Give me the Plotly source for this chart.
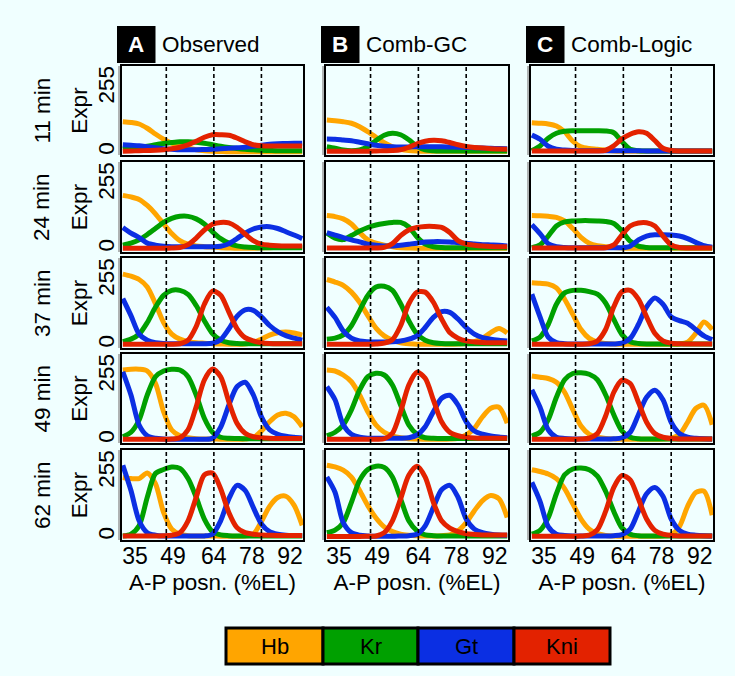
import plotly.graph_objects as go

W, H = 735, 676
FONT = "Liberation Sans, Arial, sans-serif"
BG = "#F0FFFF"
FS = 22.5

genes = ["Hb", "Kr", "Gt", "Kni"]
gene_colors = ["#FFA500", "#00A000", "#0B2FE3", "#E32200"]
models = ["Observed", "Comb-GC", "Comb-Logic"]
model_letters = ["A", "B", "C"]
times = ["11 min", "24 min", "37 min", "49 min", "62 min"]
x_tick_vals = [35, 49, 64, 78, 92]
x_tick_text = ["35", "49", "64", "78", "92"]
y_tick_vals = [0, 255]
y_tick_text = ["0", "255"]
guide_lines = [46.5, 64.0, 81.5]

# A-P position (%EL) of the sampled points
ap = [30.5, 33.5, 36.5, 39.5, 42.5, 45.5, 48.5, 51.5, 54.5, 57.5, 60.5, 63.5,
      66.5, 69.5, 72.5, 75.5, 78.5, 81.5, 84.5, 87.5, 90.5, 93.5, 96.5]

# ---------- Observed (rows: 11, 24, 37, 49, 62 min) ----------
obs_hb = [
    [120, 117, 111, 94, 71, 50, 34, 22, 14, 8, 4, 2, 1, 0, 0, 0, 0, 0, 0, 0, 0, 0, 0],
    [211, 205, 195, 171, 138, 98, 60, 32, 18, 11, 8, 6, 4, 3, 2, 2, 2, 3, 4, 5, 6, 6, 6],
    [279, 271, 258, 228, 162, 88, 42, 22, 12, 8, 6, 4, 3, 2, 2, 3, 8, 22, 38, 47, 50, 46, 38],
    [279, 282, 282, 275, 226, 112, 39, 16, 8, 4, 3, 3, 2, 2, 2, 3, 8, 35, 72, 99, 106, 92, 52],
    [234, 230, 230, 252, 210, 96, 30, 10, 4, 3, 3, 3, 2, 2, 2, 3, 10, 60, 120, 155, 160, 125, 45],
]
obs_kr = [
    [10, 14, 18, 22, 28, 33, 37, 40, 40, 38, 34, 28, 22, 17, 13, 10, 8, 6, 5, 4, 4, 4, 4],
    [14, 22, 35, 56, 80, 104, 120, 128, 128, 118, 98, 67, 40, 22, 11, 7, 5, 4, 4, 4, 4, 4, 4],
    [12, 22, 42, 88, 148, 195, 215, 215, 199, 155, 95, 44, 18, 8, 5, 4, 4, 4, 4, 4, 4, 4, 4],
    [12, 30, 79, 179, 252, 275, 282, 279, 252, 179, 86, 30, 10, 6, 5, 4, 4, 4, 4, 4, 4, 4, 4],
    [3, 10, 43, 156, 250, 266, 276, 270, 230, 156, 70, 20, 7, 4, 3, 3, 3, 3, 3, 3, 3, 3, 3],
]
obs_gt = [
    [28, 26, 24, 20, 16, 12, 10, 8, 8, 8, 9, 10, 12, 14, 16, 18, 22, 26, 30, 32, 33, 34, 34],
    [84, 62, 44, 22, 14, 10, 8, 8, 8, 8, 8, 8, 10, 20, 40, 62, 78, 86, 87, 80, 67, 54, 40],
    [182, 115, 42, 18, 8, 5, 4, 4, 4, 4, 4, 6, 20, 62, 112, 138, 136, 110, 76, 52, 36, 26, 18],
    [272, 179, 59, 16, 6, 3, 2, 2, 2, 2, 2, 6, 50, 138, 212, 230, 180, 92, 40, 22, 14, 10, 7],
    [283, 183, 63, 16, 6, 3, 3, 3, 3, 3, 3, 10, 63, 150, 203, 183, 116, 50, 20, 10, 6, 5, 5],
]
obs_kni = [
    [2, 3, 4, 5, 6, 8, 12, 18, 28, 42, 58, 68, 68, 66, 55, 40, 28, 24, 23, 23, 23, 23, 23],
    [2, 2, 2, 2, 2, 2, 3, 5, 16, 42, 74, 97, 104, 102, 85, 58, 32, 18, 14, 12, 11, 11, 11],
    [2, 2, 2, 2, 2, 2, 2, 4, 18, 72, 160, 212, 196, 130, 64, 28, 15, 8, 5, 4, 4, 4, 4],
    [2, 2, 2, 2, 2, 2, 3, 8, 40, 132, 239, 283, 252, 152, 66, 26, 12, 8, 6, 5, 5, 5, 5],
    [3, 3, 3, 3, 3, 4, 6, 16, 63, 156, 245, 252, 190, 96, 36, 16, 10, 7, 6, 5, 5, 5, 5],
]

# ---------- Comb-GC ----------
gc_hb = [
    [127, 124, 120, 114, 100, 80, 58, 36, 20, 10, 5, 3, 2, 2, 2, 2, 2, 2, 2, 2, 2, 2, 2],
    [131, 127, 118, 98, 64, 35, 22, 14, 8, 4, 3, 2, 2, 2, 2, 2, 2, 2, 2, 2, 2, 2, 2],
    [258, 248, 235, 208, 168, 115, 66, 35, 18, 8, 4, 2, 2, 2, 2, 2, 3, 5, 12, 26, 48, 64, 46],
    [279, 275, 259, 232, 179, 112, 59, 30, 16, 8, 4, 3, 2, 2, 2, 3, 6, 19, 46, 92, 126, 130, 66],
    [283, 276, 263, 236, 183, 123, 74, 39, 20, 10, 6, 4, 3, 3, 4, 7, 23, 56, 103, 143, 163, 150, 76],
]
gc_kr = [
    [20, 14, 7, 4, 7, 20, 45, 66, 74, 68, 48, 22, 8, 4, 3, 3, 3, 3, 3, 3, 3, 3, 3],
    [62, 42, 36, 52, 70, 84, 94, 100, 104, 104, 86, 46, 18, 8, 5, 4, 4, 4, 4, 4, 4, 4, 4],
    [22, 26, 39, 75, 135, 195, 228, 231, 215, 162, 95, 42, 18, 8, 5, 4, 4, 4, 4, 4, 4, 4, 4],
    [16, 30, 59, 119, 199, 252, 266, 259, 219, 139, 59, 22, 8, 6, 5, 5, 5, 5, 5, 5, 5, 5, 5],
    [16, 26, 56, 136, 223, 266, 279, 274, 236, 150, 63, 23, 7, 4, 3, 3, 3, 3, 3, 3, 3, 3, 3],
]
gc_gt = [
    [51, 50, 47, 44, 38, 32, 26, 22, 20, 19, 19, 20, 20, 20, 20, 19, 18, 17, 16, 15, 14, 13, 12],
    [64, 54, 44, 35, 27, 18, 14, 11, 11, 14, 18, 22, 27, 28, 28, 27, 24, 22, 19, 16, 15, 14, 11],
    [148, 108, 55, 26, 15, 12, 11, 11, 12, 15, 22, 35, 68, 108, 131, 128, 102, 68, 42, 28, 22, 18, 15],
    [212, 160, 60, 22, 10, 6, 6, 6, 6, 6, 8, 19, 52, 112, 166, 178, 139, 72, 35, 22, 15, 11, 8],
    [236, 176, 56, 16, 6, 3, 2, 2, 2, 3, 4, 10, 43, 116, 186, 203, 156, 70, 30, 16, 10, 7, 6],
]
gc_kni = [
    [2, 2, 2, 2, 2, 2, 3, 4, 5, 8, 18, 32, 42, 46, 44, 37, 28, 21, 17, 15, 12, 11, 10],
    [3, 3, 3, 3, 3, 3, 3, 5, 20, 52, 74, 84, 88, 88, 84, 64, 32, 18, 14, 11, 9, 8, 8],
    [2, 2, 2, 2, 2, 2, 3, 6, 20, 75, 162, 208, 208, 168, 102, 48, 26, 15, 11, 9, 8, 8, 8],
    [2, 2, 2, 2, 2, 2, 2, 4, 26, 112, 219, 270, 246, 159, 72, 30, 16, 10, 7, 6, 6, 6, 6],
    [1, 1, 1, 1, 1, 2, 3, 16, 63, 150, 243, 279, 236, 136, 63, 34, 20, 12, 9, 7, 7, 7, 7],
]

# ---------- Comb-Logic ----------
lg_hb = [
    [116, 114, 111, 103, 80, 42, 20, 13, 10, 6, 3, 2, 2, 2, 2, 2, 2, 2, 2, 2, 2, 2, 2],
    [131, 130, 128, 124, 110, 80, 45, 22, 12, 8, 5, 3, 2, 2, 2, 2, 2, 2, 2, 2, 2, 2, 2],
    [245, 243, 240, 225, 180, 120, 60, 25, 10, 5, 3, 2, 2, 2, 2, 2, 2, 2, 3, 10, 45, 90, 60],
    [255, 250, 245, 230, 190, 120, 55, 22, 10, 5, 3, 2, 2, 2, 2, 2, 3, 6, 20, 70, 125, 138, 60],
    [265, 258, 248, 230, 190, 130, 70, 30, 12, 5, 3, 2, 2, 2, 2, 2, 3, 8, 40, 120, 175, 180, 85],
]
lg_kr = [
    [4, 23, 54, 74, 82, 84, 84, 84, 84, 83, 76, 40, 10, 4, 3, 3, 3, 3, 3, 3, 3, 3, 3],
    [4, 15, 50, 90, 106, 110, 111, 111, 110, 108, 100, 70, 30, 10, 5, 4, 4, 4, 4, 4, 4, 4, 4],
    [15, 30, 80, 160, 205, 215, 215, 210, 200, 165, 100, 40, 12, 5, 3, 3, 3, 3, 3, 3, 3, 3, 3],
    [15, 30, 80, 170, 240, 265, 268, 262, 240, 180, 100, 35, 10, 4, 3, 3, 3, 3, 3, 3, 3, 3, 3],
    [10, 25, 75, 170, 245, 268, 272, 265, 240, 180, 100, 35, 10, 4, 3, 3, 3, 3, 3, 3, 3, 3, 3],
]
lg_gt = [
    [67, 50, 22, 10, 7, 5, 4, 4, 4, 4, 4, 4, 4, 4, 3, 3, 3, 3, 3, 3, 3, 3, 3],
    [95, 60, 20, 8, 5, 4, 4, 4, 4, 4, 4, 4, 10, 35, 50, 55, 55, 54, 50, 40, 25, 12, 6],
    [200, 110, 30, 8, 4, 3, 3, 3, 3, 3, 3, 6, 25, 80, 150, 185, 160, 110, 95, 85, 60, 35, 20],
    [200, 130, 40, 10, 5, 3, 3, 3, 3, 3, 4, 8, 30, 100, 170, 198, 160, 70, 25, 10, 6, 4, 3],
    [215, 140, 40, 10, 5, 3, 3, 3, 3, 3, 4, 8, 30, 100, 170, 195, 160, 70, 25, 10, 6, 4, 3],
]
lg_kni = [
    [3, 3, 3, 3, 3, 3, 3, 3, 3, 6, 24, 52, 70, 80, 74, 45, 14, 5, 3, 3, 3, 3, 3],
    [3, 3, 3, 3, 3, 3, 3, 3, 3, 4, 15, 55, 90, 102, 103, 90, 50, 15, 5, 3, 3, 3, 3],
    [2, 2, 2, 2, 2, 2, 2, 4, 15, 60, 150, 210, 215, 180, 110, 45, 15, 6, 4, 3, 3, 3, 3],
    [2, 2, 2, 2, 2, 2, 3, 6, 25, 95, 190, 238, 225, 150, 70, 25, 10, 5, 3, 3, 3, 3, 3],
    [2, 2, 2, 2, 2, 2, 3, 6, 28, 100, 195, 242, 225, 150, 70, 25, 10, 5, 3, 3, 3, 3, 3],
]

model_data = [
    [obs_hb, obs_kr, obs_gt, obs_kni],
    [gc_hb, gc_kr, gc_gt, gc_kni],
    [lg_hb, lg_kr, lg_gt, lg_kni],
]

# ---------- layout geometry (pixels) ----------
col_px = [(122, 303), (326, 508), (531, 713)]
row_px = [(66, 155), (162, 252), (258, 348), (354, 443), (450, 540)]
X_RANGE = [30.2, 96.8]
Y_RANGE = [-13, 343]


def px_x(p):
    return p / W


def px_y(p):
    return 1 - p / H


fig = go.Figure()
layout = dict(
    width=W, height=H,
    margin=dict(l=0, r=0, t=0, b=0),
    paper_bgcolor=BG, plot_bgcolor=BG,
    showlegend=False,
    font=dict(family=FONT, size=FS, color="black"),
)
shapes = []
annotations = []

for r in range(5):
    for c in range(3):
        idx = r * 3 + c + 1
        xs = "" if idx == 1 else str(idx)
        xname, yname = "x" + xs, "y" + xs
        for g in range(4):
            fig.add_trace(go.Scatter(
                x=ap, y=model_data[c][g][r], mode="lines",
                line=dict(color=gene_colors[g], width=5, shape="spline", smoothing=0.8),
                name=genes[g], xaxis=xname, yaxis=yname, hoverinfo="skip",
            ))
        x0, x1 = col_px[c]
        y0, y1 = row_px[r]
        xa = dict(
            domain=[px_x(x0), px_x(x1)], range=X_RANGE, anchor=yname,
            showgrid=False, zeroline=False, showline=True, mirror=True,
            linecolor="black", linewidth=2,
            tickmode="array", tickvals=x_tick_vals, ticktext=x_tick_text,
            showticklabels=(r == 4), ticks="", ticklabelstandoff=-6,
            tickfont=dict(size=23, family=FONT, color="black"),
        )
        if r == 4:
            xa["title"] = dict(text="A-P posn. (%EL)", standoff=7,
                               font=dict(size=FS, family=FONT, color="black"))
        ya = dict(
            domain=[px_y(y1), px_y(y0)], range=Y_RANGE, anchor=xname,
            showgrid=False, zeroline=False, showline=True, mirror=True,
            linecolor="black", linewidth=2,
            tickmode="array", tickvals=y_tick_vals, ticktext=y_tick_text,
            showticklabels=(c == 0), tickangle=-90,
            ticks="", ticklabelstandoff=-3,
            tickfont=dict(size=FS, family=FONT, color="black"),
        )
        if c == 0:
            ya["title"] = dict(text="Expr", standoff=0,
                               font=dict(size=FS, family=FONT, color="black"))
        layout["xaxis" + xs] = xa
        layout["yaxis" + xs] = ya

        # dashed guide lines
        for gx in guide_lines:
            shapes.append(dict(type="line", xref=xname, yref=yname + " domain",
                               x0=gx, x1=gx, y0=0, y1=1,
                               line=dict(color="black", width=1.6, dash="4px,3px")))
        # thin grey axis line just left of the box
        shapes.append(dict(type="line", xref="paper", yref="paper",
                           x0=px_x(x0 - 3), x1=px_x(x0 - 3), y0=px_y(y1), y1=px_y(y0),
                           line=dict(color="#9a9a9a", width=1.5)))

# row labels
for r in range(5):
    y0, y1 = row_px[r]
    annotations.append(dict(text=times[r], x=px_x(42), y=px_y((y0 + y1) / 2),
                            xref="paper", yref="paper", textangle=-90, showarrow=False,
                            xanchor="center", yanchor="middle",
                            font=dict(size=FS, family=FONT, color="black")))

# column headers
for c in range(3):
    x0, _ = col_px[c]
    bx0, bx1 = x0 - 5, x0 + 33.5
    shapes.append(dict(type="rect", xref="paper", yref="paper",
                       x0=px_x(bx0), x1=px_x(bx1), y0=px_y(63), y1=px_y(26),
                       fillcolor="black", line=dict(width=0)))
    annotations.append(dict(text="<b>%s</b>" % model_letters[c], x=px_x((bx0 + bx1) / 2),
                            y=px_y(45), xref="paper", yref="paper", showarrow=False,
                            xanchor="center", yanchor="middle",
                            font=dict(size=FS, family=FONT, color="white")))
    annotations.append(dict(text=models[c], x=px_x(bx1 + 4), y=px_y(45),
                            xref="paper", yref="paper", showarrow=False,
                            xanchor="left", yanchor="middle",
                            font=dict(size=FS, family=FONT, color="black")))

# legend bar
leg_edges = [226, 323, 418, 514, 610]
for g in range(4):
    shapes.append(dict(type="rect", xref="paper", yref="paper",
                       x0=px_x(leg_edges[g]), x1=px_x(leg_edges[g + 1]),
                       y0=px_y(664), y1=px_y(628),
                       fillcolor=gene_colors[g], line=dict(color="black", width=3)))
    annotations.append(dict(text=genes[g], x=px_x((leg_edges[g] + leg_edges[g + 1]) / 2),
                            y=px_y(646), xref="paper", yref="paper", showarrow=False,
                            xanchor="center", yanchor="middle",
                            font=dict(size=22, family=FONT, color="black")))

layout["shapes"] = shapes
layout["annotations"] = annotations
fig.update_layout(**layout)
fig.write_html(
    "out.html",
    config={"displayModeBar": False},
    post_script="document.body.style.margin='0';document.body.style.background='%s';" % BG,
)
